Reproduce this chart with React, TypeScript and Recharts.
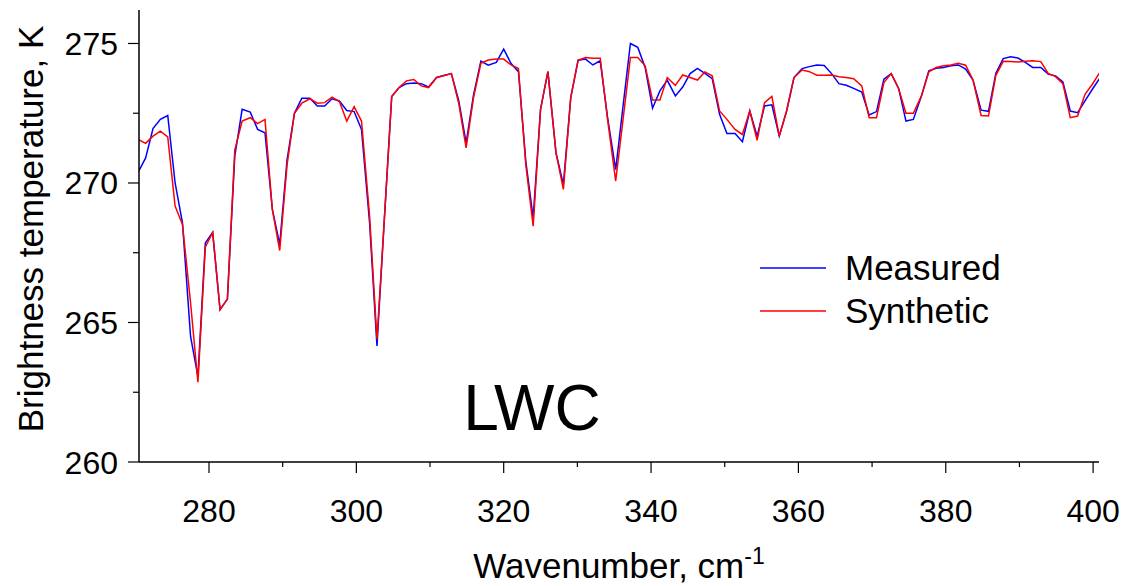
import { LineChart, Line, XAxis, YAxis } from "recharts"

// wavenumber grid (cm-1)
const wavenumbers = [
  270.4, 271.4, 272.4, 273.4, 274.4, 275.4, 276.4, 277.5, 278.5, 279.5,
  280.5, 281.5, 282.5, 283.5, 284.5, 285.6, 286.6, 287.6, 288.6, 289.6,
  290.6, 291.6, 292.6, 293.7, 294.7, 295.7, 296.7, 297.7, 298.7, 299.7,
  300.7, 301.8, 302.8, 303.8, 304.8, 305.8, 306.8, 307.8, 308.8, 309.8,
  310.9, 311.9, 312.9, 313.9, 314.9, 315.9, 316.9, 317.9, 319.0, 320.0,
  321.0, 322.0, 323.0, 324.0, 325.0, 326.0, 327.1, 328.1, 329.1, 330.1,
  331.1, 332.1, 333.1, 334.1, 335.2, 336.2, 337.2, 338.2, 339.2, 340.2,
  341.2, 342.2, 343.3, 344.3, 345.3, 346.3, 347.3, 348.3, 349.3, 350.3,
  351.4, 352.4, 353.4, 354.4, 355.4, 356.4, 357.4, 358.4, 359.4, 360.5,
  361.5, 362.5, 363.5, 364.5, 365.5, 366.5, 367.5, 368.6, 369.6, 370.6,
  371.6, 372.6, 373.6, 374.6, 375.6, 376.7, 377.7, 378.7, 379.7, 380.7,
  381.7, 382.7, 383.7, 384.8, 385.8, 386.8, 387.8, 388.8, 389.8, 390.8,
  391.8, 392.9, 393.9, 394.9, 395.9, 396.9, 397.9, 398.9, 399.9, 400.9,
]

const measured = [
  270.39, 270.9, 271.95, 272.28, 272.42, 270.0, 268.57, 264.5, 263.06, 267.85,
  268.23, 265.46, 265.84, 270.96, 272.64, 272.54, 271.92, 271.8, 269.05, 267.8,
  270.84, 272.5, 273.04, 273.04, 272.76, 272.76, 273.02, 272.94, 272.6, 272.56,
  271.92, 268.57, 264.16, 268.7, 273.1, 273.42, 273.56, 273.58, 273.56, 273.44,
  273.78, 273.85, 273.92, 272.95, 271.44, 273.15, 274.37, 274.22, 274.32, 274.8,
  274.28, 273.99, 270.78, 268.75, 272.64, 273.99, 271.08, 269.95, 273.06, 274.4,
  274.44, 274.23, 274.38, 272.34, 270.48, 272.76, 275.0, 274.86, 274.14, 272.68,
  273.3, 273.68, 273.12, 273.44, 273.92, 274.11, 273.93, 273.74, 272.46, 271.77,
  271.77, 271.48, 272.58, 271.68, 272.76, 272.8, 271.68, 272.58, 273.78, 274.1,
  274.17, 274.23, 274.21, 273.92, 273.56, 273.5, 273.39, 273.26, 272.44, 272.56,
  273.72, 273.92, 273.39, 272.22, 272.28, 273.12, 274.02, 274.11, 274.14, 274.2,
  274.23, 274.08, 273.69, 272.61, 272.57, 273.93, 274.46, 274.52, 274.48, 274.32,
  274.14, 274.14, 273.9, 273.84, 273.62, 272.58, 272.52, 272.94, 273.36, 273.75,
]

const synthetic = [
  271.56, 271.42, 271.68, 271.86, 271.65, 269.17, 268.51, 265.7, 262.86, 267.7,
  268.23, 265.46, 265.84, 271.18, 272.22, 272.34, 272.13, 272.28, 269.05, 267.58,
  270.66, 272.5, 272.86, 273.02, 272.86, 272.88, 273.08, 272.92, 272.22, 272.74,
  272.22, 268.81, 264.4, 268.7, 273.1, 273.42, 273.66, 273.71, 273.48, 273.42,
  273.78, 273.85, 273.92, 272.85, 271.26, 273.05, 274.29, 274.41, 274.44, 274.44,
  274.23, 274.1, 270.66, 268.45, 272.64, 273.99, 271.08, 269.77, 273.06, 274.4,
  274.5, 274.47, 274.47, 272.28, 270.07, 272.28, 274.5, 274.5, 274.2, 272.97,
  272.97, 273.78, 273.5, 273.87, 273.78, 273.69, 273.98, 273.84, 272.58, 272.28,
  271.92, 271.74, 272.58, 271.53, 272.88, 273.1, 271.68, 272.58, 273.78, 274.05,
  273.99, 273.86, 273.86, 273.87, 273.81, 273.78, 273.74, 273.48, 272.34, 272.34,
  273.6, 273.92, 273.39, 272.5, 272.5, 273.12, 273.98, 274.14, 274.2, 274.23,
  274.29, 274.22, 273.69, 272.42, 272.4, 273.86, 274.36, 274.35, 274.34, 274.36,
  274.38, 274.35, 273.93, 273.81, 273.56, 272.34, 272.4, 273.18, 273.54, 273.96,
]

const xTicks = [280, 290, 300, 310, 320, 330, 340, 350, 360, 370, 380, 390, 400]
const yTicks = [260, 262.5, 265, 267.5, 270, 272.5, 275]

const series = [
  { key: "measured", name: "Measured", color: "#0000ff" },
  { key: "synthetic", name: "Synthetic", color: "#ff0000" },
]

const data = wavenumbers.map((w, i) => ({ w, measured: measured[i], synthetic: synthetic[i] }))

const FONT = "'Liberation Sans', Arial, Helvetica, sans-serif"
const AXIS = { stroke: "#000", strokeWidth: 1.5 }

function XTick({ x, y, payload }: any) {
  const major = payload.value % 20 === 0
  return (
    <g>
      <line x1={x} x2={x} y1={y} y2={y + (major ? 11 : 5)} stroke="#000" strokeWidth={1.2} />
      {major && (
        <text x={x} y={y + 60} textAnchor="middle" fontSize={32} fontFamily={FONT} fill="#000">
          {payload.value}
        </text>
      )}
    </g>
  )
}

function YTick({ x, y, payload }: any) {
  const major = payload.value % 5 === 0
  return (
    <g>
      <line x1={x - (major ? 11 : 6)} x2={x} y1={y} y2={y} stroke="#000" strokeWidth={1.2} />
      {major && (
        <text x={x - 21} y={y + 11.5} textAnchor="end" fontSize={32} fontFamily={FONT} fill="#000">
          {payload.value}
        </text>
      )}
    </g>
  )
}

export default function App() {
  return (
    <div style={{ position: "absolute", left: 0, top: 0, width: 1128, height: 586, background: "#fff" }}>
      <LineChart width={1128} height={586} data={data} margin={{ top: 10, right: 29, left: 0, bottom: 0 }}>
        <XAxis
          dataKey="w"
          type="number"
          domain={[270.5, 400.8]}
          allowDataOverflow
          ticks={xTicks}
          tick={<XTick />}
          tickLine={false}
          tickSize={0}
          tickMargin={0}
          axisLine={AXIS}
          height={124}
          interval={0}
          label={{
            content: () => (
              <text x={619} y={578} textAnchor="middle" fontSize={35} fontFamily={FONT} fill="#000">
                Wavenumber, cm<tspan dy={-14} fontSize={23}>-1</tspan>
              </text>
            ),
          }}
        />
        <XAxis xAxisId="top" dataKey="w" type="number" domain={[270.5, 400.8]} allowDataOverflow orientation="top" height={0} tick={false} tickLine={false} axisLine={AXIS} />
        <YAxis
          type="number"
          domain={[260, 276.2]}
          allowDataOverflow
          ticks={yTicks}
          tick={<YTick />}
          tickLine={false}
          tickSize={0}
          tickMargin={0}
          axisLine={AXIS}
          width={139}
          interval={0}
          label={{
            content: () => (
              <text transform="translate(43,229) rotate(-90)" textAnchor="middle" fontSize={35} fontFamily={FONT} fill="#000">
                Brightness temperature, K
              </text>
            ),
          }}
        />
        <YAxis yAxisId="right" orientation="right" domain={[260, 276.2]} width={0} tick={false} tickLine={false} axisLine={AXIS} />
        {series.map((s) => (
          <Line key={s.key} dataKey={s.key} name={s.name} stroke={s.color} strokeWidth={1.5} dot={false} isAnimationActive={false} />
        ))}
      </LineChart>
      <div style={{ position: "absolute", left: 760, top: 246, fontFamily: FONT, fontSize: 35, color: "#000" }}>
        {series.map((s) => (
          <div key={s.key} style={{ display: "flex", alignItems: "center", height: 43 }}>
            <svg width={66} height={4} style={{ display: "block" }}>
              <line x1={0} x2={66} y1={2} y2={2} stroke={s.color} strokeWidth={1.5} />
            </svg>
            <span style={{ marginLeft: 19 }}>{s.name}</span>
          </div>
        ))}
      </div>
      <div style={{ position: "absolute", left: 0, width: 1064, top: 376, textAlign: "center", fontFamily: FONT, fontSize: 64, lineHeight: "64px", color: "#000" }}>
        LWC
      </div>
    </div>
  )
}
